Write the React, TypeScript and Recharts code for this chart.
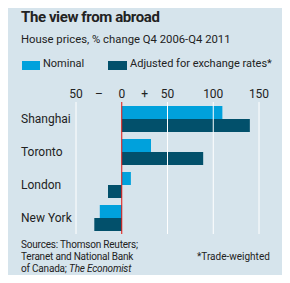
import { BarChart, Bar, XAxis, YAxis, ReferenceLine } from "recharts";

const cities = ["Shanghai", "Toronto", "London", "New York"];
const nominal = [110, 32, 10, -24];
const adjusted = [140, 89, -15, -30];
const tickValues = [-50, -25, 0, 25, 50, 100, 150];
const tickLabels = ["50", "–", "0", "+", "50", "100", "150"];
const gridValues = [-50, 50, 100, 150];

const data = cities.map((city, i) => ({
  city,
  nominal: nominal[i],
  adjusted: adjusted[i],
}));

const BG = "#d6e4ec";
const NOMINAL = "#00a1dc";
const ADJUSTED = "#02506b";
const FONT = "Roboto, sans-serif";

function CityTick(props: any) {
  const { y, payload } = props;
  return (
    <text x={21} y={y} dy={4} textAnchor="start" fontSize={12} fill="#222" fontFamily={FONT}>
      {payload.value}
    </text>
  );
}

function ValueTick(props: any) {
  const { x, payload } = props;
  return (
    <text x={x} y={98} textAnchor="middle" fontSize={12} fill="#222" fontFamily={FONT}>
      {tickLabels[tickValues.indexOf(payload.value)]}
    </text>
  );
}

export default function App() {
  return (
    <div
      style={{
        position: "relative",
        width: 290,
        height: 283,
        margin: -8,
        background: BG,
        fontFamily: FONT,
        color: "#222",
        overflow: "hidden",
      }}
    >
      <div style={{ position: "absolute", left: 0, top: 0, width: 8, height: 26, background: "#e3120b" }} />
      <div style={{ position: "absolute", left: 21, top: 8, fontSize: 15, letterSpacing: -0.4, fontWeight: 700, whiteSpace: "nowrap" }}>
        The view from abroad
      </div>
      <div style={{ position: "absolute", left: 21, top: 33, fontSize: 11.3, whiteSpace: "nowrap" }}>
        House prices, % change Q4 2006-Q4 2011
      </div>
      <div style={{ position: "absolute", left: 22, top: 61, width: 18, height: 9, background: NOMINAL }} />
      <div style={{ position: "absolute", left: 43, top: 57, fontSize: 11, whiteSpace: "nowrap" }}>Nominal</div>
      <div style={{ position: "absolute", left: 108, top: 61, width: 19, height: 9, background: ADJUSTED }} />
      <div style={{ position: "absolute", left: 130, top: 57, fontSize: 11, whiteSpace: "nowrap" }}>
        Adjusted for exchange rates*
      </div>

      <div style={{ position: "absolute", left: 0, top: 0 }}>
        <BarChart
          width={290}
          height={283}
          data={data}
          layout="vertical"
          margin={{ top: 82, right: 31, bottom: 49, left: 0 }}
          barCategoryGap={4}
          barGap={0}
        >
          {gridValues.map((v) => (
            <ReferenceLine key={v} x={v} stroke="#ffffff" strokeWidth={1} />
          ))}
          <XAxis
            type="number"
            orientation="top"
            domain={[-50, 150]}
            ticks={tickValues}
            axisLine={false}
            tickLine={false}
            height={20}
            tick={<ValueTick />}
            interval={0}
          />
          <YAxis
            type="category"
            dataKey="city"
            width={76}
            axisLine={false}
            tickLine={false}
            tick={<CityTick />}
          />
          <Bar dataKey="nominal" fill={NOMINAL} isAnimationActive={false} />
          <Bar dataKey="adjusted" fill={ADJUSTED} isAnimationActive={false} />
          <ReferenceLine x={0} stroke="#e3120b" strokeWidth={1} />
        </BarChart>
      </div>

      <div style={{ position: "absolute", left: 21, top: 239, fontSize: 10, letterSpacing: -0.2, lineHeight: "12px", whiteSpace: "nowrap" }}>
        Sources: Thomson Reuters;
        <br />
        Teranet and National Bank
        <br />
        of Canada; <i>The Economist</i>
      </div>
      <div style={{ position: "absolute", left: 197, top: 251, fontSize: 10, lineHeight: "12px", whiteSpace: "nowrap" }}>
        *Trade-weighted
      </div>
    </div>
  );
}
